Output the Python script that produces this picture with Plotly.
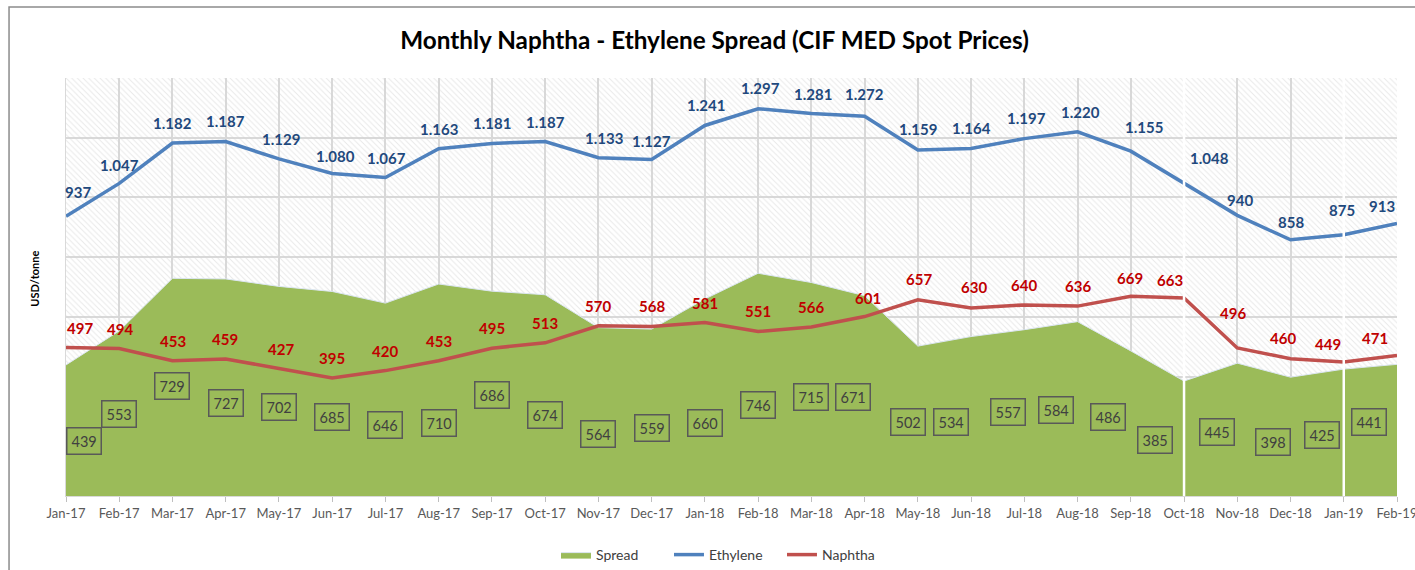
import plotly.graph_objects as go

months = ["Jan-17", "Feb-17", "Mar-17", "Apr-17", "May-17", "Jun-17", "Jul-17", "Aug-17",
          "Sep-17", "Oct-17", "Nov-17", "Dec-17", "Jan-18", "Feb-18", "Mar-18", "Apr-18",
          "May-18", "Jun-18", "Jul-18", "Aug-18", "Sep-18", "Oct-18", "Nov-18", "Dec-18",
          "Jan-19", "Feb-19"]
ethylene = [937, 1047, 1182, 1187, 1129, 1080, 1067, 1163, 1181, 1187, 1133, 1127, 1241,
            1297, 1281, 1272, 1159, 1164, 1197, 1220, 1155, 1048, 940, 858, 875, 913]
naphtha = [497, 494, 453, 459, 427, 395, 420, 453, 495, 513, 570, 568, 581, 551, 566, 601,
           657, 630, 640, 636, 669, 663, 496, 460, 449, 471]
spread = [439, 553, 729, 727, 702, 685, 646, 710, 686, 674, 564, 559, 660, 746, 715, 671,
          502, 534, 557, 584, 486, 385, 445, 398, 425, 441]

# label placement (layout only, pixel shifts / label heights)
spread_label_y = [184, 275, 368, 311, 298, 265, 238, 244, 338, 271, 208, 228, 244, 305, 332,
                  332, 248, 248, 281, 288, 265, 188, 214, 181, 204, 248]
spread_label_dx = [18, 0, 0, 0, 0, 0, 0, 0, 0, 0, 0, 0, 0, 0, 0, -12, -10, -20, -16, -22,
                   -23, -29, -20, -18, -22, -28]
eth_label_dx = [12, 0, 0, 0, 2, 3, 1, 0, 0, 0, 6, 0, 1, 2, 2, 0, 0, 0, 2, 3, 13, 25, 3, 0, -2, -15]
eth_label_dy = [24, 18, 20, 21, 20, 18, 19, 20, 20, 20, 20, 19, 20, 21, 20, 22, 21, 20, 21, 20,
                24, 25, 15, 18, 25, 17]
nap_label_dx = [14, 1, 1, -1, 2, 0, 0, 0, 0, 0, 0, 0, 0, 0, 0, 3, 1, 3, 0, 0, -1, -14, -4, -8,
                -16, -22]
nap_label_dy = [20, 20, 20, 20, 20, 20, 20, 20, 20, 20, 20, 20, 20, 20, 20, 19, 21, 21, 20, 20,
                18, 18, 35, 21, 18, 17]
separators_at = ["Oct-18", "Jan-19"]

Y_MAX = 1400
FONT = "Lato, 'Open Sans', sans-serif"

n = len(months)
fig = go.Figure()

# hatched plot background
fig.add_trace(go.Scatter(
    x=months, y=[Y_MAX] * n, mode="lines", line=dict(width=0), fill="tozeroy",
    fillcolor="rgba(0,0,0,0)",
    fillpattern=dict(shape="\\", fgcolor="#D2D2D2", bgcolor="rgba(0,0,0,0)", size=4, solidity=0.25),
    showlegend=False, hoverinfo="skip"))

fig.add_trace(go.Scatter(
    x=months, y=spread, name="Spread", mode="lines", fill="tozeroy",
    fillcolor="#9BBB59", line=dict(color="#DCE6F2", width=1)))

fig.add_trace(go.Scatter(
    x=months, y=ethylene, name="Ethylene", mode="lines",
    line=dict(color="#4F81BD", width=3.5)))

fig.add_trace(go.Scatter(
    x=months, y=naphtha, name="Naphtha", mode="lines",
    line=dict(color="#C0504D", width=3.5)))

annotations = []
for m, v, dx, dy in zip(months, ethylene, eth_label_dx, eth_label_dy):
    annotations.append(dict(
        x=m, y=v, xref="x", yref="y", text=f"{v:,}".replace(",", "."), showarrow=False,
        xshift=dx, yshift=dy,
        font=dict(family=FONT, size=15, color="#1F497D", weight="bold")))
for m, v, dx, dy in zip(months, naphtha, nap_label_dx, nap_label_dy):
    annotations.append(dict(
        x=m, y=v, xref="x", yref="y", text=f"{v:,}".replace(",", "."), showarrow=False,
        xshift=dx, yshift=dy,
        font=dict(family=FONT, size=15, color="#C00000", weight="bold")))
for m, v, ly, dx in zip(months, spread, spread_label_y, spread_label_dx):
    annotations.append(dict(
        x=m, y=ly, xref="x", yref="y", text=str(v), showarrow=False, xshift=dx,
        font=dict(family=FONT, size=14.5, color="#404040"),
        bordercolor="#595959", borderwidth=1.5, borderpad=4))

annotations.append(dict(
    x=-0.0233, y=0.52, xref="paper", yref="paper", text="<b>USD/tonne</b>",
    xanchor="center", yanchor="middle",
    textangle=-90, showarrow=False, font=dict(family=FONT, size=11, color="#000000")))

shapes = []
for s in separators_at:
    shapes.append(dict(type="line", x0=s, x1=s, xref="x", y0=0, y1=1, yref="paper",
                       line=dict(color="white", width=2.5), layer="above"))
shapes.append(dict(type="rect", xref="paper", yref="paper", x0=-0.0428, x1=1.03,
                   y0=-0.25, y1=1.17, line=dict(color="#8C8C8C", width=1.5)))

fig.update_layout(
    width=1415, height=570,
    margin=dict(l=66, r=18, t=78, b=74, autoexpand=False),
    paper_bgcolor="white", plot_bgcolor="white",
    title=dict(text="<b>Monthly Naphtha - Ethylene Spread (CIF MED Spot Prices)</b>",
               x=0.505, xanchor="center", y=1 - 40 / 570, yanchor="middle",
               font=dict(family=FONT, size=24.3, color="#000000")),
    font=dict(family=FONT, color="#404040"),
    xaxis=dict(type="category", range=[0, n - 1], showgrid=True, gridcolor="#D9D9D9",
               gridwidth=1.5, ticks="outside", ticklen=5, tickcolor="#BFBFBF",
               showline=True, linecolor="#D9D9D9", linewidth=1, automargin=False,
               tickfont=dict(family=FONT, size=13, color="#595959")),
    yaxis=dict(range=[0, Y_MAX], dtick=200, showgrid=True, gridcolor="#D9D9D9",
               gridwidth=1.5, showticklabels=False, zeroline=False, automargin=False,
               showline=True, linecolor="#D9D9D9"),
    legend=dict(orientation="h", x=0.5127, xref="container", xanchor="center",
                y=1 - 555 / 570, yref="container", yanchor="middle",
                entrywidth=68, entrywidthmode="pixels",
                font=dict(family=FONT, size=14, color="#404040"), traceorder="normal"),
    annotations=annotations, shapes=shapes, showlegend=True,
)

fig.write_html("out.html", post_script="document.body.style.margin='0';",
               config={"displayModeBar": False})
